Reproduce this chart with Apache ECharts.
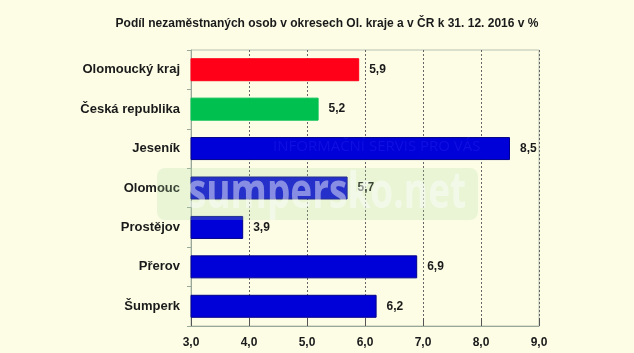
<!DOCTYPE html>
<html><head><meta charset="utf-8">
<script src="https://cdn.jsdelivr.net/npm/echarts@6/dist/echarts.min.js"></script>
<style>html,body{margin:0;padding:0;background:#fdfde6;}#c{width:634px;height:353px;}</style>
</head><body><div id="c"></div>
<script>
const categories = ['Olomoucký kraj','Česká republika','Jeseník','Olomouc','Prostějov','Přerov','Šumperk'];
const values = [5.9, 5.2, 8.5, 5.7, 3.9, 6.9, 6.2];
const xTicks = [3, 4, 5, 6, 7, 8, 9];
const titleText = 'Podíl nezaměstnaných osob v okresech Ol. kraje a v ČR k 31. 12. 2016 v %';
const barColors = ['#ff0018','#00c050','#0000d8','#0000d8','#0000d8','#0000d8','#0000d8'];
const fmt = v => v.toFixed(1).replace('.', ',');

const chart = echarts.init(document.getElementById('c'));
chart.setOption({
  backgroundColor: '#fdfde6',
  animation: false,
  title: { text: titleText, left: 322, top: 13, textAlign: 'center',
    textStyle: { fontFamily: 'Liberation Sans, Arial', fontSize: 12, fontWeight: 'bold', color: '#1a1a1a' } },
  grid: { left: 191, right: 95, top: 50, bottom: 27, show: true, borderColor: '#b8c2b4', borderWidth: 1, backgroundColor: 'transparent' },
  xAxis: {
    type: 'value', min: xTicks[0], max: xTicks[xTicks.length-1], interval: 1,
    axisLine: { show: true, lineStyle: { color: '#9aa89a' } },
    axisTick: { show: true, inside: true, length: 8, lineStyle: { color: '#555' } },
    axisLabel: { formatter: fmt, margin: 11, fontFamily: 'Liberation Sans, Arial', fontSize: 12, fontWeight: 'bold', color: '#1a1a1a' },
    splitLine: { show: true, lineStyle: { color: '#666', type: [2, 2], width: 1 } }
  },
  yAxis: {
    type: 'category', data: categories, inverse: true,
    axisLine: { show: true, lineStyle: { color: '#9aa89a' } },
    axisTick: { show: true, length: 4, lineStyle: { color: '#9aa89a' } },
    axisLabel: { margin: 11, fontFamily: 'Liberation Sans, Arial', fontSize: 13, fontWeight: 'bold', color: '#1a1a1a' }
  },
  series: [{
    type: 'bar', barWidth: 23,
    data: values.map((v, i) => ({ value: v, itemStyle: { color: barColors[i], borderColor: i > 1 ? '#00008a' : barColors[i], borderWidth: 1 } })),
    label: { show: true, position: 'right', distance: 10, formatter: p => fmt(p.value),
      fontFamily: 'Liberation Sans, Arial', fontSize: 12, fontWeight: 'bold', color: '#1a1a1a' }
  }],
  graphic: [
    { type: 'rect', shape: { x: 157, y: 168, width: 321, height: 52, r: 8 }, style: { fill: 'rgba(170,220,160,0.22)' }, z: 100 },
    { type: 'text', x: 145, y: 194, scaleX: 0.74, originX: 165, originY: 194, style: { text: 'sumpersko.net', fill: 'rgba(255,255,255,0.45)', font: 'bold 50px "Open Sans", sans-serif', textVerticalAlign: 'middle' }, z: 101 },
    { type: 'text', x: 273, y: 147, style: { text: 'INFORMAČNÍ SERVIS PRO VÁS', fill: 'rgba(60,60,255,0.25)', font: '15px "Open Sans", sans-serif', textVerticalAlign: 'middle' }, z: 101 }
  ]
});
</script></body></html>
